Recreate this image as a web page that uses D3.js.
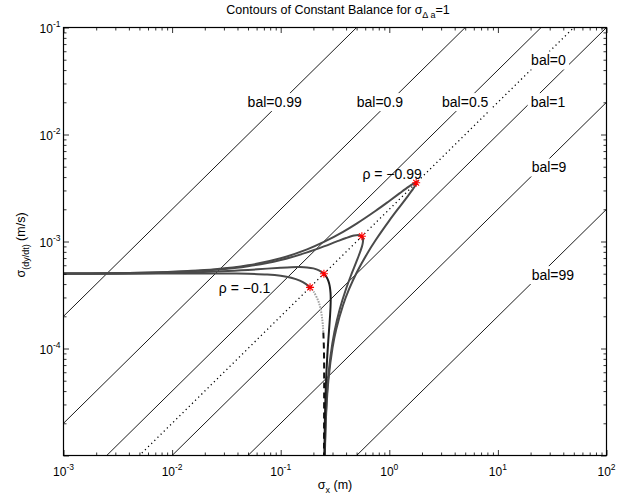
<!DOCTYPE html>
<html>
<head>
<meta charset="utf-8">
<script src="https://cdn.jsdelivr.net/npm/d3@7"></script>
<style>
  body { margin: 0; background: #fff; }
  text { font-family: "Liberation Sans", Arial, Helvetica, sans-serif; fill: #000; }
</style>
</head>
<body>
<svg id="chart" width="628" height="502"></svg>
<script>
  // axis limits and tick decades
  var xDomain = [1e-3, 1e2];
  var yDomain = [1e-5, 1e-1];
  var xTickExps = [-3, -2, -1, 0, 1, 2];
  var yTickExps = [-4, -3, -2, -1];

  // constant balance lines: y = ratio * x
  var balLabels = ["bal=0.99", "bal=0.9", "bal=0.5", "bal=0", "bal=1", "bal=9", "bal=99"];
  var balRatios = [0.2, 0.02, 0.004, 0.002, 0.001, 0.0002, 0.00002];
  var balLabelX = [0.088, 0.82, 5.0, 29.2, 28.9, 29.6, 32.1];
  var balLabelY = [0.0201, 0.0201, 0.0201, 0.0492, 0.0201, 0.00492, 0.000486];

  // curves, [sigma_x, sigma_v]
  // upper part runs from the left edge to the star, lower part from the star down
  var rho01Up = [[0.001,5.002e-4],[0.0025,5.005e-4],[0.0075,5.013e-4],[0.015,5.021e-4],[0.025,5.025e-4],
    [0.0375,5.019e-4],[0.05,5.0e-4],[0.075,4.922e-4],[0.1,4.787e-4],[0.125,4.587e-4],[0.15,4.311e-4],
    [0.17,4.022e-4],[0.1863,3.727e-4]];
  var rho01Down = [[0.1863,3.727e-4],[0.2,3.427e-4],[0.225,2.676e-4],[0.2375,2.107e-4],[0.245,1.599e-4],
    [0.247,1.41e-4]];
  var rho01Tail = [[0.247,1.41e-4],[0.25,1.0e-4],[0.251,7.29e-5],[0.2513,5.02e-5],[0.251,2.75e-5],
    [0.2505,1.12e-5],[0.25025,5.2e-6]];
  var rho05Up = [[0.001,5.01e-4],[0.0025,5.025e-4],[0.0075,5.073e-4],[0.015,5.143e-4],[0.025,5.231e-4],
    [0.0375,5.333e-4],[0.05,5.425e-4],[0.075,5.578e-4],[0.1,5.69e-4],[0.125,5.757e-4],[0.15,5.772e-4],
    [0.175,5.726e-4],[0.2,5.605e-4],[0.225,5.382e-4],[0.25,5.0e-4]];
  var rho05Down = [[0.25,5.0e-4],[0.2625,4.705e-4],[0.275,4.27e-4],
    [0.2825,3.853e-4],[0.2875,3.326e-4],[0.2887,2.887e-4],[0.2875,2.425e-4],[0.285,2.054e-4],[0.28,1.583e-4],
    [0.275,1.229e-4],[0.2675,7.95e-5],[0.26,4.27e-5],[0.255,2.06e-5],[0.2525,1.01e-5],[0.2513,5.0e-6]];
  var rho09Up = [[0.001,5.018e-4],[0.0025,5.045e-4],[0.0075,5.135e-4],[0.015,5.269e-4],[0.025,5.445e-4],
    [0.0375,5.665e-4],[0.05,5.881e-4],[0.075,6.307e-4],[0.1,6.724e-4],[0.125,7.13e-4],[0.175,7.912e-4],
    [0.25,9.0e-4],[0.325,9.97e-4],[0.4,1.0784e-3],[0.475,1.1353e-3],[0.525,1.1463e-3],[0.559,1.118e-3]];
  var rho09Down = [[0.559,1.118e-3],
    [0.57,1.0815e-3],[0.5736,1.0324e-3],[0.57,9.706e-4],[0.5625,9.149e-4],[0.55,8.483e-4],[0.525,7.437e-4],
    [0.5,6.551e-4],[0.45,5.0e-4],[0.4,3.617e-4],[0.35,2.339e-4],[0.3125,1.433e-4],[0.2875,8.49e-5],
    [0.27,4.49e-5],[0.26,2.24e-5],[0.255,1.12e-5],[0.2525,5.6e-6]];
  var rho099Up = [[0.001,5.02e-4],[0.0025,5.05e-4],[0.0075,5.149e-4],[0.025,5.495e-4],[0.05,5.988e-4],
    [0.1,6.972e-4],[0.175,8.441e-4],[0.25,9.9e-4],[0.375,1.2312e-3],[0.5,1.4697e-3],[0.75,1.938e-3],
    [1.0,2.3928e-3],[1.25,2.8295e-3],[1.5,3.2363e-3],[1.625,3.417e-3],[1.75,3.5439e-3],[1.7678,3.5355e-3]];
  var rho099Down = [[1.7678,3.5355e-3],
    [1.7723,3.509e-3],[1.75,3.386e-3],[1.625,3.018e-3],[1.5,2.7038e-3],[1.25,2.1206e-3],[1.0,1.5672e-3],
    [0.75,1.032e-3],[0.625,7.697e-4],[0.5,5.103e-4],[0.425,3.561e-4],[0.375,2.538e-4],[0.325,1.52e-4],
    [0.3,1.012e-4],[0.275,5.06e-5],[0.2625,2.53e-5],[0.255,1.01e-5],[0.2525,5.05e-6]];

  var curveParts = [
    { pts: rho099Up, color: "#4a4a4a", dash: null },
    { pts: rho099Down, color: "#4a4a4a", dash: null },
    { pts: rho09Up, color: "#4a4a4a", dash: null },
    { pts: rho09Down, color: "#4a4a4a", dash: null },
    { pts: rho05Up, color: "#4a4a4a", dash: null },
    { pts: rho05Down, color: "#1e1e1e", dash: null },
    { pts: rho01Up, color: "#4a4a4a", dash: null },
    { pts: rho01Down, color: "#a0a0a0", dash: "1.5,1.2" },
    { pts: rho01Tail, color: "#111", dash: "6,4" }
  ];

  // where each curve meets bal=0
  var starX = [0.1863, 0.25, 0.559, 1.7678];
  var starY = [3.727e-4, 5.0e-4, 1.118e-3, 3.5355e-3];

  var rhoLabels = ["ρ = −0.1", "ρ = −0.99"];
  var rhoLabelX = [0.0465, 1.06];
  var rhoLabelY = [3.65e-4, 4.3e-3];

  var svg = d3.select("#chart");
  var x = d3.scaleLog().domain(xDomain).range([63.5, 606.5]);
  var y = d3.scaleLog().domain(yDomain).range([455.5, 27.5]);
  var x0 = x.range()[0], x1 = x.range()[1], y0 = y.range()[1], y1 = y.range()[0];

  svg.append("defs").append("clipPath").attr("id", "plotclip")
    .append("rect").attr("x", x0).attr("y", y0).attr("width", x1 - x0).attr("height", y1 - y0);

  var plot = svg.append("g").attr("clip-path", "url(#plotclip)");

  // balance lines
  plot.selectAll("line.bal")
    .data(balRatios)
    .enter().append("line")
    .attr("class", "bal")
    .attr("x1", function(r) { return x(xDomain[0]); })
    .attr("y1", function(r) { return y(r * xDomain[0]); })
    .attr("x2", function(r) { return x(xDomain[1]); })
    .attr("y2", function(r) { return y(r * xDomain[1]); })
    .attr("stroke", "#000")
    .attr("stroke-width", function(r, i) { return balLabels[i] === "bal=0" ? 1.3 : 0.9; })
    .attr("stroke-dasharray", function(r, i) { return balLabels[i] === "bal=0" ? "1.2,3.2" : null; });

  // curves
  var line = d3.line()
    .x(function(d) { return x(d[0]); })
    .y(function(d) { return y(d[1]); })
    .curve(d3.curveCatmullRom.alpha(0.5));

  plot.selectAll("path.curve")
    .data(curveParts)
    .enter().append("path")
    .attr("class", "curve")
    .attr("d", function(d) { return line(d.pts); })
    .attr("fill", "none")
    .attr("stroke", function(d) { return d.color; })
    .attr("stroke-dasharray", function(d) { return d.dash; })
    .attr("stroke-width", 2);

  // stars
  var starPath = "M-4,0L4,0M0,-4L0,4M-2.9,-2.9L2.9,2.9M-2.9,2.9L2.9,-2.9";
  plot.selectAll("path.star")
    .data(starX)
    .enter().append("path")
    .attr("class", "star")
    .attr("transform", function(d, i) { return "translate(" + x(d) + "," + y(starY[i]) + ")"; })
    .attr("d", starPath)
    .attr("stroke", "#ff0000")
    .attr("stroke-width", 1.1);

  // balance labels with white backing
  var balG = plot.selectAll("g.ballabel")
    .data(balLabels)
    .enter().append("g")
    .attr("class", "ballabel");
  balG.append("text")
    .attr("x", function(d, i) { return x(balLabelX[i]); })
    .attr("y", function(d, i) { return y(balLabelY[i]); })
    .attr("dy", "0.36em")
    .attr("text-anchor", "middle")
    .style("font-size", "14px")
    .text(function(d) { return d; });
  balG.each(function() {
    var g = d3.select(this);
    var bb = g.select("text").node().getBBox();
    g.insert("rect", "text")
      .attr("x", bb.x - 3).attr("y", bb.y - 1)
      .attr("width", bb.width + 6).attr("height", bb.height + 2)
      .attr("fill", "#fff");
  });

  plot.selectAll("text.rholabel")
    .data(rhoLabels)
    .enter().append("text")
    .attr("class", "rholabel")
    .attr("x", function(d, i) { return x(rhoLabelX[i]); })
    .attr("y", function(d, i) { return y(rhoLabelY[i]); })
    .attr("dy", "0.36em")
    .attr("text-anchor", "middle")
    .style("font-size", "14px")
    .text(function(d) { return d; });

  // ticks, inward on all four sides
  var allX = x.ticks(), allY = y.ticks();
  function isMajor(v) { return Math.abs(Math.log10(v) - Math.round(Math.log10(v))) < 1e-6; }
  var majX = allX.filter(isMajor), minX = allX.filter(function(v) { return !isMajor(v); });
  var majY = allY.filter(isMajor), minY = allY.filter(function(v) { return !isMajor(v); });

  function addAxis(gen, scale, vals, len, tx, ty) {
    var g = svg.append("g")
      .attr("transform", "translate(" + tx + "," + ty + ")")
      .call(gen(scale).tickValues(vals).tickSize(-len).tickFormat(""));
    g.select(".domain").remove();
    g.selectAll(".tick line").attr("stroke", "#000").attr("stroke-width", 0.8);
  }
  addAxis(d3.axisBottom, x, majX, 5.5, 0, y1);
  addAxis(d3.axisBottom, x, minX, 3, 0, y1);
  addAxis(d3.axisTop, x, majX, 5.5, 0, y0);
  addAxis(d3.axisTop, x, minX, 3, 0, y0);
  addAxis(d3.axisLeft, y, majY, 5.5, x0, 0);
  addAxis(d3.axisLeft, y, minY, 3, x0, 0);
  addAxis(d3.axisRight, y, majY, 5.5, x1, 0);
  addAxis(d3.axisRight, y, minY, 3, x1, 0);

  svg.append("rect")
    .attr("x", x0).attr("y", y0).attr("width", x1 - x0).attr("height", y1 - y0)
    .attr("fill", "none").attr("stroke", "#000").attr("stroke-width", 1.2);

  // tick labels 10^n
  var xl = svg.selectAll("text.xtick")
    .data(xTickExps)
    .enter().append("text")
    .attr("class", "xtick")
    .attr("x", function(e) { return x(Math.pow(10, e)); })
    .attr("y", y1 + 20.5)
    .attr("text-anchor", "middle")
    .style("font-size", "12px");
  xl.append("tspan").text("10");
  xl.append("tspan").attr("dy", -6).style("font-size", "8.5px").text(function(e) { return e; });

  var yl = svg.selectAll("text.ytick")
    .data(yTickExps)
    .enter().append("text")
    .attr("class", "ytick")
    .attr("x", x0 - 3)
    .attr("y", function(e) { return y(Math.pow(10, e)) + 5; })
    .attr("text-anchor", "end")
    .style("font-size", "12px");
  yl.append("tspan").text("10");
  yl.append("tspan").attr("dy", -6).style("font-size", "8.5px").text(function(e) { return e; });

  // title and axis labels
  var title = svg.append("text")
    .attr("x", (x0 + x1) / 2 + 3)
    .attr("y", 14)
    .attr("text-anchor", "middle")
    .style("font-size", "12.5px");
  title.append("tspan").text("Contours of Constant Balance for σ");
  title.append("tspan").attr("dy", 3.5).style("font-size", "9px").text("Δ a");
  title.append("tspan").attr("dy", -3.5).text("=1");

  var xlab = svg.append("text")
    .attr("x", (x0 + x1) / 2)
    .attr("y", 489)
    .attr("text-anchor", "middle")
    .style("font-size", "12.5px");
  xlab.append("tspan").text("σ");
  xlab.append("tspan").attr("dy", 3.5).style("font-size", "9px").text("x");
  xlab.append("tspan").attr("dy", -3.5).text(" (m)");

  var ylab = svg.append("text")
    .attr("transform", "translate(25,245) rotate(-90)")
    .attr("text-anchor", "middle")
    .style("font-size", "12.5px");
  ylab.append("tspan").text("σ");
  ylab.append("tspan").attr("dy", 3.5).style("font-size", "9px").text("(dy/dt)");
  ylab.append("tspan").attr("dy", -3.5).text(" (m/s)");
</script>
</body>
</html>
